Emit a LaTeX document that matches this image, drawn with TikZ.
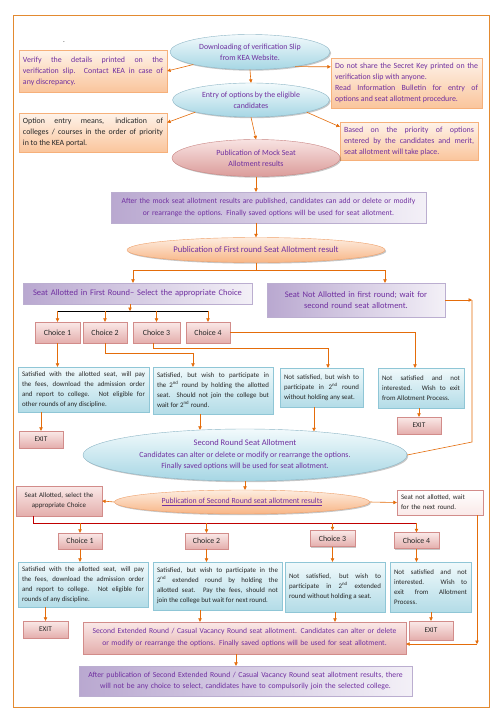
\documentclass[tikz,border=0pt]{standalone}
\usepackage{fontspec}
\setmainfont{Carlito}
\usetikzlibrary{shapes.geometric,shadows,arrows.meta,calc}
\definecolor{ptext}{HTML}{7030A0}
\definecolor{dtext}{HTML}{262626}
\definecolor{lineor}{HTML}{E46C0A}
\definecolor{framec}{HTML}{E38A30}
\definecolor{peachT}{HTML}{FEF3EA}
\definecolor{peachB}{HTML}{FAC59C}
\definecolor{peachD}{HTML}{F6B07A}
\definecolor{blueT}{HTML}{F0F9FB}
\definecolor{blueB}{HTML}{B3DCE7}
\definecolor{blueD}{HTML}{8FC6D6}
\definecolor{bellT}{HTML}{F2FAFC}
\definecolor{bellB}{HTML}{A6D6E4}
\definecolor{bellD}{HTML}{8DB6C6}
\definecolor{pinkT}{HTML}{FAE9E8}
\definecolor{pinkB}{HTML}{E4AEAC}
\definecolor{pinkD}{HTML}{D28C8A}
\definecolor{lavL}{HTML}{B9A8D0}
\definecolor{lavR}{HTML}{F3F0F7}
\definecolor{lavD}{HTML}{BBAED0}
\definecolor{oellT}{HTML}{FDEDE0}
\definecolor{oellB}{HTML}{F8B585}
\definecolor{oellD}{HTML}{EFA06A}
\definecolor{rellT}{HTML}{F8E3E2}
\definecolor{rellB}{HTML}{DB9C9A}
\definecolor{rellD}{HTML}{C98583}
\definecolor{redline}{HTML}{C00000}
\tikzset{
  ftA/.style={font=\fontsize{7.9}{11}\selectfont},
  ftB/.style={font=\fontsize{8.5}{11.5}\selectfont},
  ftC/.style={font=\fontsize{6.9}{10}\selectfont},
  shad/.style={drop shadow={shadow xshift=1.2pt,shadow yshift=-1.2pt,fill=black,opacity=0.22}},
  arr/.style={draw=lineor,line width=0.6pt,-{Triangle[length=3.4pt,width=3.4pt]}},
  ln/.style={draw=lineor,line width=0.6pt},
  rbox/.style={rectangle,inner xsep=4pt,inner ysep=1pt,shad},
  peachbox/.style={rbox,draw=peachD,top color=peachT,bottom color=peachB},
  bluebox/.style={rbox,draw=blueD,top color=blueT,bottom color=blueB,ftC,text=dtext,align=justify},
  pinkbox/.style={rbox,draw=pinkD,top color=pinkT,bottom color=pinkB,text=dtext,align=center},
  lavbox/.style={rbox,draw=lavD,left color=lavL,right color=lavR,text=ptext,align=center},
  bell/.style={ellipse,inner sep=0pt,draw=bellD,top color=bellT,bottom color=bellB,text=ptext,align=center,ftA,shad},
  oell/.style={ellipse,inner sep=0pt,draw=oellD,top color=oellT,bottom color=oellB,text=ptext,align=center,shad},
  rell/.style={ellipse,inner sep=0pt,draw=rellD,top color=rellT,bottom color=rellB,text=ptext,align=center,ftA,shad},
  choicebox/.style={pinkbox,ftA,minimum height=21pt},
  choicebtwo/.style={pinkbox,ftA,minimum height=16pt},
  exitbox/.style={pinkbox,font=\fontsize{7.3}{8}\selectfont,minimum width=44pt,minimum height=17pt},
}
\begin{document}
\hyphenpenalty=10000
\exhyphenpenalty=10000
\begin{tikzpicture}[x=1pt,y=-1pt]
\useasboundingbox (0,0) rectangle (503,720);
\fill[white] (0,0) rectangle (503,720);
\draw[framec,line width=0.9pt] (13,15) rectangle (489,707);
\node[font=\fontsize{7}{8}\selectfont,text=dtext] (dot) at (64,42) {.};

% ---------- top part ----------
\node[bell,minimum width=160pt,minimum height=35pt] (e1) at (250,52) {Downloading of verification Slip\\from KEA Website.};
\node[peachbox,ftA,text=ptext,text width=140pt,minimum height=42pt,align=justify] (vbox) at (93,71)
  {Verify the details printed on the\linebreak verification slip. Contact KEA in case of\linebreak any discrepancy.};
\node[peachbox,ftA,text=ptext,text width=143pt,minimum height=50pt,align=justify] (dbox) at (406.5,83)
  {Do not share the Secret Key printed on the\linebreak verification slip with anyone.\\Read Information Bulletin for entry of\linebreak options and seat allotment procedure.};
\node[bell,minimum width=157pt,minimum height=34pt] (e2) at (251,100) {Entry of options by the eligible\\candidates};
\node[peachbox,ftA,text=dtext,text width=140pt,minimum height=39pt,align=justify] (obox) at (93,132.5)
  {Option entry means, indication of\linebreak colleges / courses in the order of priority\linebreak in to the KEA portal.};
\node[peachbox,ftA,text=ptext,text width=130pt,minimum height=38pt,align=justify] (bbox) at (409,141)
  {Based on the priority of options\linebreak entered by the candidates and merit,\linebreak seat allotment will take place.};
\node[rell,minimum width=168pt,minimum height=37pt] (e3) at (256,158) {Publication of Mock Seat\\Allotment results};
\node[lavbox,font=\fontsize{7.6}{11.5}\selectfont,text width=307pt,minimum height=31pt] (mbox) at (268.5,207.5)
  {After the mock seat allotment results are published, candidates can add or delete or modify\\or rearrange the options. Finally saved options will be used for seat allotment.};
\node[oell,font=\fontsize{8.7}{11}\selectfont,minimum width=258pt,minimum height=25pt] (e4) at (256,250) {Publication of First round Seat Allotment result};

% ---------- first round ----------
\node[lavbox,ftB,text width=221pt,minimum height=21pt] (sa1) at (137.5,293.5) {Seat Allotted in First Round-- Select the appropriate Choice};
\node[lavbox,ftB,text width=170pt,minimum height=34pt] (sn1) at (356,300) {Seat Not Allotted in first round; wait for\\second round seat allotment.};
\node[choicebox,minimum width=45pt] (c1) at (57.5,332.5) {Choice 1};
\node[choicebox,minimum width=44pt] (c2) at (105,332.5) {Choice 2};
\node[choicebox,minimum width=47pt] (c3) at (156.5,332.5) {Choice 3};
\node[choicebox,minimum width=44pt] (c4) at (208,332.5) {Choice 4};
\node[bluebox,text width=123pt,minimum height=45pt] (bA) at (83.5,389.5)
  {Satisfied with the allotted seat, will pay\linebreak the fees, download the admission order\linebreak and report to college. Not eligible for\linebreak other rounds of any discipline.};
\node[bluebox,text width=112pt,minimum height=47pt] (bB) at (213,390.5)
  {Satisfied, but wish to participate in\linebreak the 2\textsuperscript{nd} round by holding the allotted\linebreak seat. Should not join the college but\linebreak wait for 2\textsuperscript{nd} round.};
\node[bluebox,text width=75pt,minimum height=39pt] (bC) at (321.5,387.5)
  {Not satisfied, but wish to\linebreak participate in 2\textsuperscript{nd} round\linebreak without holding any seat.};
\node[bluebox,text width=78pt,minimum height=40pt] (bD) at (421,388)
  {Not satisfied and not\linebreak interested. Wish to exit\linebreak from Allotment Process.};
\node[exitbox] (ex1) at (41,439.5) {EXIT};
\node[exitbox] (ex2) at (419,425.5) {EXIT};

% ---------- second round ----------
\node[bell,font=\fontsize{7.9}{11.5}\selectfont,minimum width=324pt,minimum height=52pt] (e5) at (245,455)
  {{\fontsize{8.5}{11.5}\selectfont Second Round Seat Allotment}\\Candidates can alter or delete or modify or rearrange the options.\\Finally saved options will be used for seat allotment.};
\node[oell,font=\fontsize{7.8}{10}\selectfont,minimum width=255pt,minimum height=24pt] (e6) at (242,502) {\underline{Publication of Second Round seat allotment results}};
\node[pinkbox,ftC,text width=78pt,minimum height=30pt] (sa2) at (59,501) {Seat Allotted, select the\\appropriate Choice};
\node[rbox,draw=pinkD,top color=white,bottom color=pinkT,ftC,text=dtext,align=left,text width=78pt,minimum height=25pt] (sn2) at (440,502.5) {Seat not allotted, wait\\for the next round.};
\node[choicebtwo,minimum width=44pt] (d1) at (80,541) {Choice 1};
\node[choicebtwo,minimum width=43pt] (d2) at (206.5,541) {Choice 2};
\node[choicebtwo,minimum width=45pt] (d3) at (332.5,538.5) {Choice 3};
\node[choicebtwo,minimum width=45pt] (d4) at (416.5,540.5) {Choice 4};
\node[bluebox,text width=122pt,minimum height=45pt] (bE) at (83,584.5)
  {Satisfied with the allotted seat, will pay\linebreak the fees, download the admission order\linebreak and report to college. Not eligible for\linebreak rounds of any discipline.};
\node[bluebox,text width=121pt,minimum height=48pt] (bF) at (217.5,586)
  {Satisfied, but wish to participate in the\linebreak 2\textsuperscript{nd} extended round by holding the\linebreak allotted seat. Pay the fees, should not\linebreak join the college but wait for next round.};
\node[bluebox,text width=92pt,minimum height=50pt] (bG) at (335,587)
  {Not satisfied, but wish to\linebreak participate in 2\textsuperscript{nd} extended\linebreak round without holding a seat.};
\node[bluebox,text width=73pt,minimum height=50pt] (bH) at (430.5,587)
  {Not satisfied and not\linebreak interested. Wish to\linebreak exit from Allotment\linebreak Process.};
\node[exitbox,minimum width=45pt] (ex3) at (45.5,629.5) {EXIT};
\node[exitbox,minimum height=19pt] (ex4) at (431,630.5) {EXIT};
\node[pinkbox,font=\fontsize{7.6}{12}\selectfont,text=ptext,text width=315pt,minimum height=32pt] (sebox) at (244.5,638)
  {Second Extended Round / Casual Vacancy Round seat allotment. Candidates can alter or delete\\or modify or rearrange the options. Finally saved options will be used for seat allotment.};
\node[lavbox,font=\fontsize{7.7}{11}\selectfont,text width=325pt,minimum height=30pt] (fbox) at (245.5,681)
  {After publication of Second Extended Round / Casual Vacancy Round seat allotment results, there\\will not be any choice to select, candidates have to compulsorily join the selected college.};

% ---------- connectors: top ----------
\draw[arr] (e1.south west) -- (vbox.east);
\draw[arr] (e1.-18) -- ([yshift=-9pt]dbox.north west);
\draw[arr] (e1.south) -- (e2.north);
\draw[arr] (e2.south west) -- ([yshift=10pt]obox.east);
\draw[arr] (e2.south east) -- ([yshift=-5pt]bbox.north west);
\draw[arr] (e2.south) -- (e3.north);
\draw[arr] (e3.south) -- (e3.south |- mbox.north);
\draw[arr] (e3.south |- mbox.south) -- (e3.south |- e4.north);
\coordinate (j1) at (256,270);
\draw[ln] (e4.south) -- (j1);
\draw[arr] (j1) -| ([xshift=-4.5pt]sa1.north);
\draw[arr] (j1) -| ([xshift=29pt]sn1.north);

% ---------- connectors: first round ----------
\coordinate (j2) at (130,311);
\draw[arr] ([xshift=-7.5pt]sa1.south) -- (j2);
\draw[black,line width=0.7pt] (j2 -| c1) -- (j2 -| c4);
\draw[arr] (j2 -| c1) -- (c1.north);
\draw[arr] (j2 -| c2) -- (c2.north);
\draw[arr] (j2 -| c3) -- (c3.north);
\draw[arr] (j2 -| c4) -- (c4.north);
\draw[arr] (c1.south) -- (c1.south |- bA.north);
\draw[arr] (c2.south) -- ++(0,10) -| ([xshift=-20pt]bB.north);
\draw[arr] ([xshift=-3pt]c3.south) -- ++(0,5) -| ([xshift=6.5pt]bC.north);
\draw[arr] (c4.east) -| ([xshift=-6pt]bD.north);
\coordinate (k1) at (472,300);
\coordinate (k2) at (472,442);
\draw[arr] (sn1.east) -- (k1);
\draw[ln] (k1) -- (k2) -- (e5.east);
\draw[arr] (ex1.north |- bA.south) -- (ex1.north);
\draw[arr] ([xshift=-13pt]bB.south) -- ([xshift=-13pt,yshift=-1pt]bB.south |- e5.north);
\draw[arr] ([xshift=-7.5pt]bC.south) -- ([xshift=-7.5pt,yshift=-2.5pt]bC.south |- e5.north);
\draw[arr] (ex2.north |- bD.south) -- (ex2.north);

% ---------- connectors: second round ----------
\draw[arr] (e5.south) -- (e5.south |- e6.north);
\draw[arr] (e6.west) -- (sa2.east);
\draw[arr] (e6.east) -- (sn2.west);
\coordinate (r0) at (33,523);
\draw[redline,line width=0.7pt] (sa2.south -| r0) -- (r0) -- (r0 -| d4);
\draw[arr] (r0 -| d1) -- (d1.north);
\draw[arr] (r0 -| d2) -- (d2.north);
\draw[arr] (r0 -| d3) -- (d3.north);
\draw[arr] (r0 -| d4) -- (d4.north);
\draw[arr] (d1.south) -- (d1.south |- bE.north);
\draw[arr] (d2.south) -- (d2.south |- bF.north);
\draw[arr] (d3.south) -- (d3.south |- bG.north);
\draw[arr] (d4.south) -- (d4.south |- bH.north);
\draw[arr] (ex3.north |- bE.south) -- (ex3.north);
\draw[arr] ([xshift=-17.5pt]bF.south) -- ([xshift=-17.5pt]bF.south |- sebox.north);
\draw[arr] (bG.south) -- (bG.south |- sebox.north);
\draw[arr] (ex4.north |- bH.south) -- (ex4.north);
\coordinate (k3) at (477,644);
\draw[arr] (sn2.south -| k3) -- (k3);
\draw[arr] (k3) -- (sebox.east |- k3);
\draw[arr] ([xshift=-8.5pt]sebox.south) -- ([xshift=-8.5pt]sebox.south |- fbox.north);
\end{tikzpicture}
\end{document}
